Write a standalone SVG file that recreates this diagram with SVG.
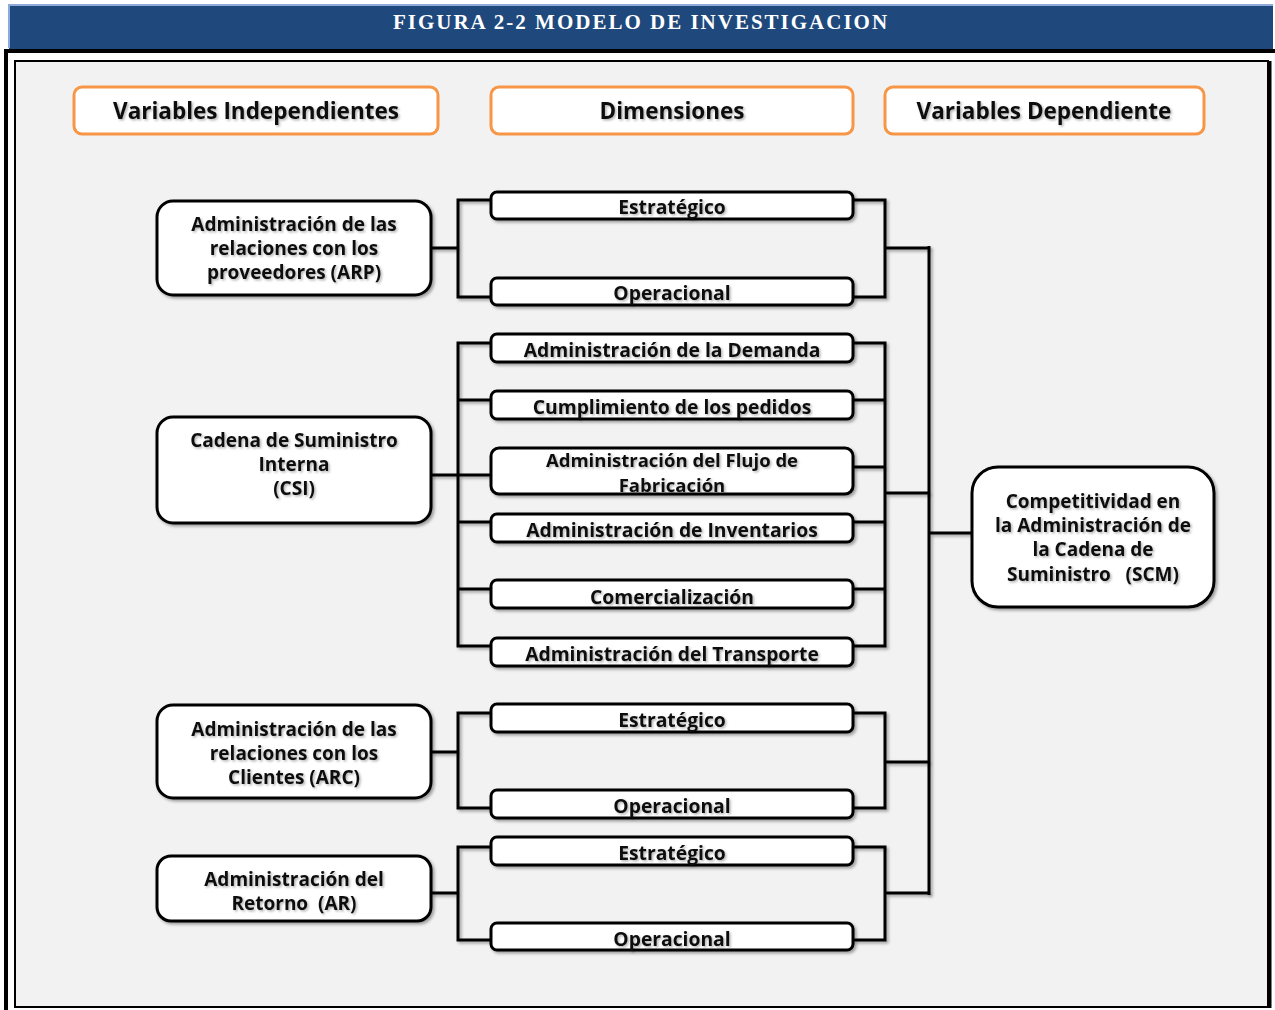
<svg xmlns="http://www.w3.org/2000/svg" width="1275" height="1010" viewBox="0 0 1275 1010">
<defs>
<filter id="sh" x="-10%" y="-10%" width="130%" height="140%">
<feDropShadow dx="2" dy="2" stdDeviation="1.5" flood-color="#000" flood-opacity="0.35"/>
</filter>
<filter id="tsh" x="-5%" y="-20%" width="110%" height="150%">
<feDropShadow dx="1.5" dy="1.5" stdDeviation="1" flood-color="#000" flood-opacity="0.3"/>
</filter>
<style>
.hdr{fill:#fff;stroke:#F79646;stroke-width:3}
.node{fill:#fff;stroke:#000;stroke-width:3}
.dim{fill:#fff;stroke:#000;stroke-width:3}
.t{font-family:"Open Sans","Liberation Sans",sans-serif;font-weight:700;fill:#111;text-anchor:middle;dominant-baseline:central}
.th{font-size:22.5px}
.tn{font-size:19px}
.td{font-size:19.3px}
.c{fill:none;stroke:#000;stroke-width:3;stroke-linejoin:miter}
</style>
</defs>
<rect x="0" y="0" width="1275" height="1010" fill="#fff"/>
<!-- title bar -->
<rect x="9" y="5" width="1264" height="44" fill="#1F497D"/>
<path d="M9 48 V5 H1273" fill="none" stroke="#8EAADB" stroke-width="2"/>
<text x="641" y="22" font-family="'Liberation Serif',serif" font-weight="bold" font-size="21" fill="#fff" text-anchor="middle" dominant-baseline="central" letter-spacing="2">FIGURA 2-2 MODELO DE INVESTIGACION</text>
<!-- frames -->
<path d="M6 1010 V51 H1275" fill="none" stroke="#000" stroke-width="4"/>
<rect x="15" y="61" width="1253" height="946" fill="#F2F2F2" stroke="#000" stroke-width="2"/>
<path d="M1270 61 V1008" stroke="#000" stroke-width="3"/>

<g id="hdr-vi"><rect class="hdr" x="74" y="87" width="364" height="47" rx="8"/><text class="t th" x="256" y="110" filter="url(#tsh)">Variables Independientes</text></g>
<g id="hdr-dim"><rect class="hdr" x="491" y="87" width="362" height="47" rx="8"/><text class="t th" x="672" y="110" filter="url(#tsh)">Dimensiones</text></g>
<g id="hdr-vd"><rect class="hdr" x="885" y="87" width="319" height="47" rx="8"/><text class="t th" x="1044" y="110" filter="url(#tsh)">Variables Dependiente</text></g>

<g id="connectors">
<path class="c" filter="url(#sh)" d="M431 248 H458 M491 200 H458 V297 H491 M853 200 H885 V297 H853 M885 248 H929"/>
<path class="c" filter="url(#sh)" d="M431 475 H491 M491 343 H458 V646 H491 M458 400 H491 M458 522 H491 M458 589 H491 M853 343 H885 V646 H853 M885 400 H853 M885 467 H853 M885 522 H853 M885 589 H853 M885 493 H929"/>
<path class="c" filter="url(#sh)" d="M431 752 H458 M491 713 H458 V808 H491 M853 713 H885 V808 H853 M885 762 H929"/>
<path class="c" filter="url(#sh)" d="M431 893 H458 M491 847 H458 V940 H491 M853 847 H885 V940 H853 M885 893 H929"/>
<path class="c" filter="url(#sh)" d="M929 246 V895 M929 533 H972"/>
</g>

<g id="n-arp"><rect class="node" x="157" y="201" width="274" height="94" rx="16" filter="url(#sh)"/>
<text class="t tn" x="294" filter="url(#tsh)"><tspan x="294" y="224">Administración de las</tspan><tspan x="294" y="248">relaciones con los</tspan><tspan x="294" y="272">proveedores (ARP)</tspan></text></g>
<g id="n-csi"><rect class="node" x="157" y="417" width="274" height="106" rx="16" filter="url(#sh)"/>
<text class="t tn" x="294" filter="url(#tsh)"><tspan x="294" y="440">Cadena de Suministro</tspan><tspan x="294" y="464">Interna</tspan><tspan x="294" y="488">(CSI)</tspan></text></g>
<g id="n-arc"><rect class="node" x="157" y="705" width="274" height="93" rx="16" filter="url(#sh)"/>
<text class="t tn" x="294" filter="url(#tsh)"><tspan x="294" y="729">Administración de las</tspan><tspan x="294" y="753">relaciones con los</tspan><tspan x="294" y="777">Clientes (ARC)</tspan></text></g>
<g id="n-ar"><rect class="node" x="157" y="856" width="274" height="65" rx="14" filter="url(#sh)"/>
<text class="t tn" x="294" filter="url(#tsh)"><tspan x="294" y="879">Administración del</tspan><tspan x="294" y="903">Retorno&#160; (AR)</tspan></text></g>

<g id="d1"><rect class="dim" x="491" y="192" width="362" height="27" rx="6" filter="url(#sh)"/><text class="t td" x="672" y="206" filter="url(#tsh)">Estratégico</text></g>
<g id="d2"><rect class="dim" x="491" y="278" width="362" height="27" rx="6" filter="url(#sh)"/><text class="t td" x="672" y="292" filter="url(#tsh)">Operacional</text></g>
<g id="d3"><rect class="dim" x="491" y="334" width="362" height="28" rx="6" filter="url(#sh)"/><text class="t td" x="672" y="349" filter="url(#tsh)">Administración de la Demanda</text></g>
<g id="d4"><rect class="dim" x="491" y="391" width="362" height="28" rx="6" filter="url(#sh)"/><text class="t td" x="672" y="406" filter="url(#tsh)">Cumplimiento de los pedidos</text></g>
<g id="d5"><rect class="dim" x="491" y="448" width="362" height="46" rx="8" filter="url(#sh)"/><text class="t" font-size="18.5" x="672" filter="url(#tsh)"><tspan x="672" y="459">Administración del Flujo de</tspan><tspan x="672" y="484">Fabricación</tspan></text></g>
<g id="d6"><rect class="dim" x="491" y="514" width="362" height="28" rx="6" filter="url(#sh)"/><text class="t td" x="672" y="529" filter="url(#tsh)">Administración de Inventarios</text></g>
<g id="d7"><rect class="dim" x="491" y="580" width="362" height="28" rx="6" filter="url(#sh)"/><text class="t td" x="672" y="596" filter="url(#tsh)">Comercialización</text></g>
<g id="d8"><rect class="dim" x="491" y="638" width="362" height="28" rx="6" filter="url(#sh)"/><text class="t td" x="672" y="653" filter="url(#tsh)">Administración del Transporte</text></g>
<g id="d9"><rect class="dim" x="491" y="704" width="362" height="28" rx="6" filter="url(#sh)"/><text class="t td" x="672" y="719" filter="url(#tsh)">Estratégico</text></g>
<g id="d10"><rect class="dim" x="491" y="790" width="362" height="28" rx="6" filter="url(#sh)"/><text class="t td" x="672" y="805" filter="url(#tsh)">Operacional</text></g>
<g id="d11"><rect class="dim" x="491" y="837" width="362" height="28" rx="6" filter="url(#sh)"/><text class="t td" x="672" y="852" filter="url(#tsh)">Estratégico</text></g>
<g id="d12"><rect class="dim" x="491" y="923" width="362" height="27" rx="6" filter="url(#sh)"/><text class="t td" x="672" y="938" filter="url(#tsh)">Operacional</text></g>

<g id="n-scm"><rect class="node" x="972" y="467" width="242" height="140" rx="26" filter="url(#sh)"/>
<text class="t tn" x="1093" filter="url(#tsh)"><tspan x="1093" y="501">Competitividad en</tspan><tspan x="1093" y="525">la Administración de</tspan><tspan x="1093" y="549">la Cadena de</tspan><tspan x="1093" y="574">Suministro&#160;&#160;&#160;(SCM)</tspan></text></g>
</svg>
